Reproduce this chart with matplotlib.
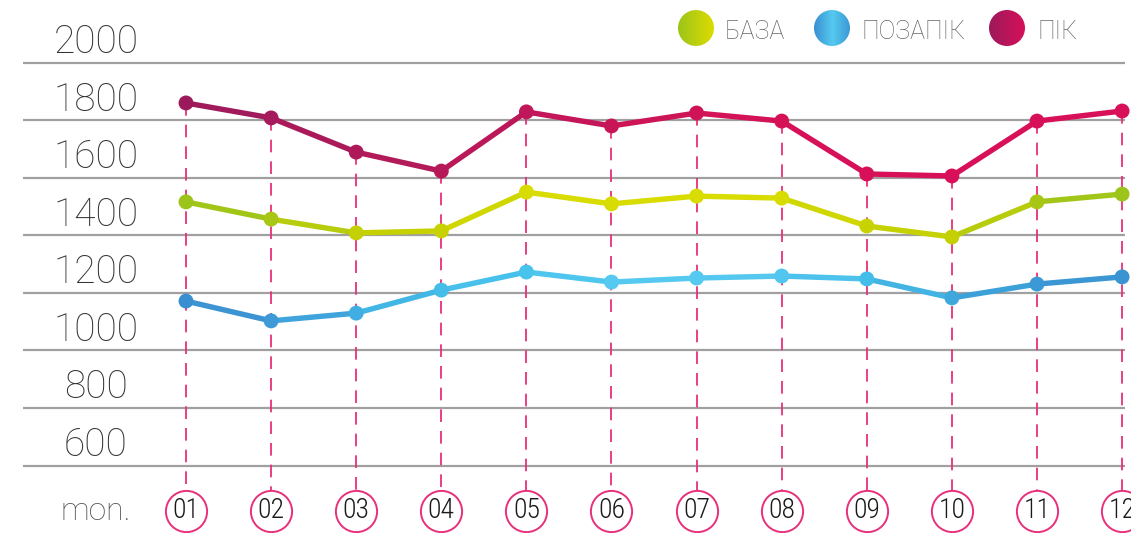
import numpy as np
import matplotlib
matplotlib.use("Agg")
import matplotlib.pyplot as plt
from matplotlib.colors import to_rgb
from matplotlib.patches import Circle

months = ["01", "02", "03", "04", "05", "06", "07", "08", "09", "10", "11", "12"]
pik = [1861, 1809, 1690, 1624, 1830, 1781, 1826, 1798, 1614, 1607, 1798, 1833]
baza = [1517, 1457, 1409, 1416, 1551, 1510, 1537, 1530, 1433, 1395, 1517, 1544]
pozapik = [1172, 1103, 1130, 1210, 1273, 1238, 1252, 1259, 1249, 1183, 1231, 1256]
y_ticks = [600, 800, 1000, 1200, 1400, 1600, 1800, 2000]
legend_names = ["БАЗА", "ПОЗАПІК", "ПІК"]

# colour of each point (the original lines are gradients)
pik_cols = ["#9c1a5b", "#a51a5a", "#ae1a59", "#b51959", "#c0175a", "#c81558",
            "#d01356", "#d61257", "#d8105a", "#d8105a", "#d8105a", "#d8105a"]
baza_cols = ["#9cc41a", "#a8c714", "#c4d004", "#c8d200", "#d8dc00", "#d8dc00",
             "#d8dc00", "#d8dc00", "#c8d200", "#c4d004", "#a8c714", "#9cc41a"]
poz_cols = ["#3a8fd0", "#3d9ad6", "#40aee2", "#45bde9", "#48c3ec", "#55c9f0",
            "#55c9f0", "#52c6ee", "#45bde9", "#3ea8dc", "#3b9ad6", "#3a94d2"]

W, H = 1131, 533
fig = plt.figure(figsize=(W / 100, H / 100), dpi=100)
ax = fig.add_axes([0, 0, 1, 1])
ax.axis("off")

x = np.arange(1, 13)
# pixel mapping: month 1 at px 186, step 85.1; 2000 at py 63, 200 per 57.5 px
step = 85.1
x0 = 1 - 186 / step
x1 = 1 + (W - 186) / step
ax.set_xlim(x0, x1)
ax.set_ylim(2000 - (H - 63) / 57.5 * 200, 2000 + 63 / 57.5 * 200)

def px(p):
    return 1 + (p - 186) / step

# grid lines + labels
ax.hlines(y_ticks, px(23), px(1125), color="#a0a0a0", lw=1.6, zorder=1)
for v in y_ticks:
    ax.text(px(96), v + 6, str(v), ha="center", va="bottom", fontsize=28,
            family="Roboto", fontweight="light", color="#333333")

# dashed drop lines
circ_y = 2000 - (511 - 63) / 57.5 * 200
top = 2000 - (490 - 63) / 57.5 * 200
for xi, v in zip(x, pik):
    ax.plot([xi, xi], [v, top], color="#e8307a", lw=1.3, dashes=(7, 5), zorder=2)

def draw(vals, cols):
    for i in range(len(vals) - 1):
        c = (np.array(to_rgb(cols[i])) + np.array(to_rgb(cols[i + 1]))) / 2
        ax.plot(x[i:i + 2], vals[i:i + 2], color=c, lw=3.9,
                solid_capstyle="round", zorder=3)
    ax.scatter(x, vals, s=115, c=cols, zorder=4, linewidths=0)

draw(pik, pik_cols)
draw(baza, baza_cols)
draw(pozapik, poz_cols)

# month circles
ax.scatter(x, [circ_y] * 12, s=880, facecolors="white", edgecolors="#e8307a",
           linewidths=1.4, zorder=5, clip_on=False)
for xi, m in zip(x, months):
    ax.text(xi, circ_y, m, ha="center", va="center", fontsize=20,
            family=["Roboto Condensed", "Roboto"], fontweight="light",
            color="#1a1a1a", zorder=6)
ax.text(px(96), circ_y, "mon.", ha="center", va="center", fontsize=23,
        family="Roboto", fontweight="light", color="#555555")

# legend with gradient circles
grads = [["#9cc41a", "#dcdc00"], ["#3a8fd0", "#55caf0", "#3a96d4"], ["#9c1a5b", "#d8105a"]]
circ_px = [696, 832, 1007]
text_px = [725, 862, 1037]
for name, g, cx, tx in zip(legend_names, grads, circ_px, text_px):
    d = 36
    cax = fig.add_axes([(cx - d / 2) / W, 1 - (28 + d / 2) / H, d / W, d / H])
    cax.axis("off")
    stops = [np.array(to_rgb(c)) for c in g]
    t = np.linspace(0, 1, 100)
    pos = np.linspace(0, 1, len(stops))
    img = np.stack([np.interp(t, pos, [s[k] for s in stops]) for k in range(3)], axis=-1)
    im = cax.imshow(img[None, :, :], extent=[0, 1, 0, 1], aspect="auto")
    cax.set_xlim(0, 1)
    cax.set_ylim(0, 1)
    im.set_clip_path(Circle((0.5, 0.5), 0.5, transform=cax.transData))
    fig.text(tx / W, 1 - 32 / H, name, ha="left", va="center", fontsize=18,
             family="Roboto", fontweight="light", color="#666666")

fig.savefig("out.png", dpi=100)
